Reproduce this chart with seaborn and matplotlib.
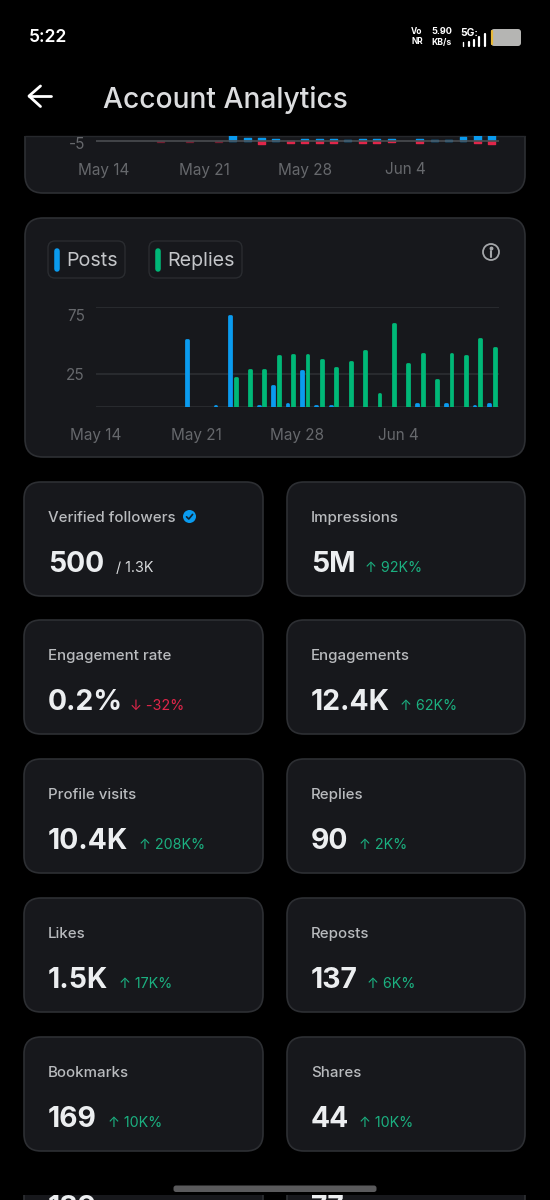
import numpy as np
import pandas as pd
import matplotlib
matplotlib.use("Agg")
import matplotlib.pyplot as plt
from matplotlib.patches import FancyBboxPatch, Rectangle, Circle
from matplotlib.transforms import ScaledTranslation
import seaborn as sns

# days on the two charts
dates = ['May 14', 'May 15', 'May 16', 'May 17', 'May 18', 'May 19', 'May 20',
         'May 21', 'May 22', 'May 23', 'May 24', 'May 25', 'May 26', 'May 27',
         'May 28', 'May 29', 'May 30', 'May 31', 'Jun 1', 'Jun 2', 'Jun 3',
         'Jun 4', 'Jun 5', 'Jun 6', 'Jun 7', 'Jun 8', 'Jun 9', 'Jun 10']
tick_dates = ['May 14', 'May 21', 'May 28', 'Jun 4']
nan = np.nan

posts = [nan, nan, nan, nan, nan, nan, 50, nan, 1, 68, nan, 1, 16, 2.5, 27, 1, 1,
         nan, nan, nan, nan, nan, 2.5, nan, 2, nan, 1, 2.5]
replies = [nan, nan, nan, nan, nan, nan, nan, nan, nan, 22, 28, 28, 38, 39, 39, 35,
           29, 34, 42, 10, 62, 32, 40, 20, 40, 38, 51, 44]

# top chart, cut off by the header
gained = [nan, nan, nan, nan, nan, nan, nan, nan, nan, 6.5, 3.7, 3, 2.3, 0.4, 2.3, 2.3,
          2.3, 1.3, 2, 2, 2, nan, 2.7, 1.3, 1.3, 4, 6.5, 6.5]
lost = [nan, nan, nan, nan, -0.6, nan, -0.6, nan, -0.6, nan, nan, -2.7, nan, -2, -2, -2,
        -1.3, nan, -1.3, -2, -0.7, nan, -1.7, nan, nan, nan, -1.7, -2.3]

card_titles = ['Verified followers', 'Impressions', 'Engagement rate', 'Engagements',
               'Profile visits', 'Replies', 'Likes', 'Reposts', 'Bookmarks', 'Shares']
card_values = ['500', '5M', '0.2%', '12.4K', '10.4K', '90', '1.5K', '137', '169', '44']
card_deltas = ['/ 1.3K', '↑ 92K%', '↓ -32%', '↑ 62K%', '↑ 208K%', '↑ 2K%',
               '↑ 17K%', '↑ 6K%', '↑ 10K%', '↑ 10K%']
delta_x = [116, 365, 130, 400, 139, 359, 119, 367, 108, 359]
row_tops = [482, 620, 759, 898, 1037]

BLUE = '#0a9bef'
GREEN = '#00b877'
RED = '#e0264a'
CARD = '#17181c'
BORDER = '#2d2f33'
GRID = '#2c2e32'
TICK = '#66686c'
LABEL = '#b9bbbe'
DELTA = '#1bb080'

sns.set_theme(style="dark")
plt.rcParams['font.family'] = ['Inter', 'DejaVu Sans']

W, H = 550, 1200
fig = plt.figure(figsize=(5.5, 12), dpi=100, facecolor='black')

# background layer in pixel coordinates
bg = fig.add_axes([0, 0, 1, 1], zorder=0)
bg.set_xlim(0, W)
bg.set_ylim(H, 0)
bg.axis('off')


def card(x0, y0, x1, y1, r=18):
    bg.add_patch(FancyBboxPatch((x0 + r, y0 + r), x1 - x0 - 2 * r, y1 - y0 - 2 * r,
                                boxstyle=f"round,pad={r},rounding_size={r}",
                                fc=CARD, ec=BORDER, lw=1.2))


def chart_axes(x0, y0, x1, y1):
    a = fig.add_axes([x0 / W, 1 - y1 / H, (x1 - x0) / W, (y1 - y0) / H], zorder=2)
    a.patch.set_alpha(0)
    for s in a.spines.values():
        s.set_visible(False)
    return a


def round_bars(a, lw):
    for p in a.patches:
        p.set_edgecolor(p.get_facecolor())
        p.set_linewidth(lw)
        p.set_joinstyle('round')


def shift_label(label, px):
    # move a tick label down by some pixels
    label.set_transform(label.get_transform() + ScaledTranslation(0, -px / 100, fig.dpi_scale_trans))


# top card, scrolled under the header
card(25, 100, 525, 193)
# chart card
card(25, 218, 525, 457)

# cards with the numbers
for i, (t, v, d) in enumerate(zip(card_titles, card_values, card_deltas)):
    top = row_tops[i // 2]
    left = i % 2 == 0
    x0, x1 = (24, 263) if left else (287, 525)
    tx = 48 if left else 311
    card(x0, top, x1, top + 114, r=17)
    bg.text(tx, top + 36, t, color=LABEL, fontsize=10.8, va='center', fontweight='medium')
    bg.text(tx, top + 90, v, color='#eceef0', fontsize=20.4, va='baseline', fontweight='bold')
    dc = '#d8dadc' if i == 0 else (RED if '↓' in d else DELTA)
    bg.text(delta_x[i], top + 90, d, color=dc, fontsize=10.3, va='baseline')

# verified badge
bg.add_patch(Circle((189.5, 516.5), 6.5, fc=BLUE, ec='none'))
bg.plot([186.5, 188.8, 192.6], [516.8, 519, 514.4], color='#10222e', lw=1.2)

# row that is cut by the bottom edge
card(24, 1176, 263, 1300, r=17)
card(287, 1176, 525, 1300, r=17)
bg.text(48, 1216, '189', color='#eceef0', fontsize=20.4, fontweight='bold', va='baseline')
bg.text(107, 1216, '↑ 10K%', color=DELTA, fontsize=10.3, va='baseline')
bg.text(311, 1216, '77', color='#eceef0', fontsize=20.4, fontweight='bold', va='baseline')
bg.text(345, 1216, '↑ 10K%', color=DELTA, fontsize=10.3, va='baseline')
bg.add_patch(Rectangle((0, 1152), W, 43, fc='black', ec='none', zorder=3))
bg.add_patch(FancyBboxPatch((176, 1188), 198, 1.5, boxstyle="round,pad=2.5",
                            fc='#5a5a5c', ec='none', zorder=4))

# header and status bar
bg.add_patch(Rectangle((0, 0), W, 135.5, fc='black', ec='none', zorder=3))
bg.plot([25, 525], [135.5, 135.5], color='#26282c', lw=1, zorder=3)
bg.text(29, 38, '5:22', color='white', fontsize=12.6, fontweight='semibold', va='center', zorder=4)
bg.text(103, 100, 'Account Analytics', color='#dcdddf', fontsize=20.3, va='center',
        fontweight='medium', zorder=4)
bg.plot([51, 29], [96, 96], color='white', lw=2, zorder=4, solid_capstyle='round')
bg.plot([40.5, 29, 40.5], [86, 96, 106.5], color='white', lw=2, zorder=4,
        solid_capstyle='round', solid_joinstyle='round')
bg.text(417, 31.5, 'Vo', color='white', fontsize=6, fontweight='bold', ha='center', va='center', zorder=4)
bg.text(417, 42, 'NR', color='white', fontsize=6, fontweight='bold', ha='center', va='center', zorder=4)
bg.text(442, 31.5, '5.90', color='white', fontsize=6.6, fontweight='bold', ha='center', va='center', zorder=4)
bg.text(442, 42, 'KB/s', color='white', fontsize=6.2, fontweight='bold', ha='center', va='center', zorder=4)
bg.text(469, 33, '5G:', color='white', fontsize=7.4, fontweight='bold', ha='center', va='center', zorder=4)
for bx, btop in zip([463, 468.5, 474, 479, 484.5], [42, 41.5, 40, 37, 34]):
    bg.plot([bx, bx], [btop, 45.5], color='white', lw=1.6 if bx > 464 else 1, zorder=4)
bg.add_patch(FancyBboxPatch((493, 31), 26, 13, boxstyle="round,pad=2,rounding_size=3",
                            fc='#b5b5b3', ec='none', zorder=4))
bg.plot([492, 492], [31, 44], color='#e8b93a', lw=1.6, zorder=5)

# legend chips
for x0, x1, c, t in [(48, 125, BLUE, 'Posts'), (149, 242, GREEN, 'Replies')]:
    bg.add_patch(FancyBboxPatch((x0 + 7, 248), x1 - x0 - 14, 23, boxstyle="round,pad=7",
                                fc=CARD, ec='#2a2c30', lw=1))
    bg.plot([x0 + 9, x0 + 9], [250.5, 268.5], color=c, lw=4, solid_capstyle='round')
    bg.text(x0 + 18, 261, t, color='#c4c6c9', fontsize=14.2, va='center')

# info icon
bg.add_patch(Circle((491, 252), 8, fc='none', ec='#a4a6a9', lw=1.3))
bg.plot([491, 491], [251, 256.5], color='#a4a6a9', lw=1.5)
bg.plot([491], [248], marker='o', ms=1.8, color='#a4a6a9')

# posts and replies chart
df = pd.DataFrame({'date': dates, 'Posts': posts, 'Replies': replies})
long_df = df.melt(id_vars='date', var_name='kind', value_name='count')
ax = chart_axes(96, 307, 499, 407)
sns.barplot(data=long_df, x='date', y='count', hue='kind', order=dates,
            hue_order=['Posts', 'Replies'], palette=[BLUE, GREEN], width=0.8, gap=0.68,
            saturation=1, legend=False, ax=ax)
round_bars(ax, 2)
ax.set_xlim(-0.5, 27.5)
ax.set_ylim(0, 75)
ax.set_yticks([0, 25, 75], ['', '25', '75'])
ax.set_xticks([dates.index(d) - 0.5 for d in tick_dates], tick_dates)
ax.grid(axis='y', color=GRID, lw=1.2)
ax.set_axisbelow(True)
ax.tick_params(axis='y', length=0, pad=8, labelsize=11, labelcolor=TICK)
ax.tick_params(axis='x', length=0, pad=15, labelsize=11, labelcolor=TICK)
ax.set_xlabel('')
ax.set_ylabel('')
shift_label(ax.yaxis.get_major_ticks()[2].label1, 8)

# gained and lost chart at the top
top_df = pd.DataFrame({'date': dates, 'gained': gained, 'lost': lost})
top_long = top_df.melt(id_vars='date', var_name='kind', value_name='count')
ax2 = chart_axes(96, 136, 499, 150)
sns.barplot(data=top_long, x='date', y='count', hue='kind', order=dates,
            hue_order=['gained', 'lost'], palette=[BLUE, RED], dodge=False, width=0.48,
            saturation=1, legend=False, ax=ax2)
round_bars(ax2, 1)
# the small ones are hardly visible in the reference
for p in ax2.patches:
    if abs(p.get_height()) < 0.65:
        p.set_alpha(0.35)
ax2.set_xlim(-0.5, 27.5)
ax2.set_ylim(-8.7, 5.3)
ax2.axhline(0, color='#4a4c50', lw=1.2, zorder=5)
ax2.set_yticks([0], ['-5'])
ax2.set_xticks([dates.index(d) for d in tick_dates], tick_dates)
ax2.tick_params(axis='y', length=0, pad=8, labelsize=11, labelcolor=TICK)
ax2.tick_params(axis='x', length=0, pad=9, labelsize=11, labelcolor=TICK)
ax2.set_xlabel('')
ax2.set_ylabel('')
shift_label(ax2.yaxis.get_major_ticks()[0].label1, 2)

fig.savefig('out.png', dpi=100, facecolor='black')
